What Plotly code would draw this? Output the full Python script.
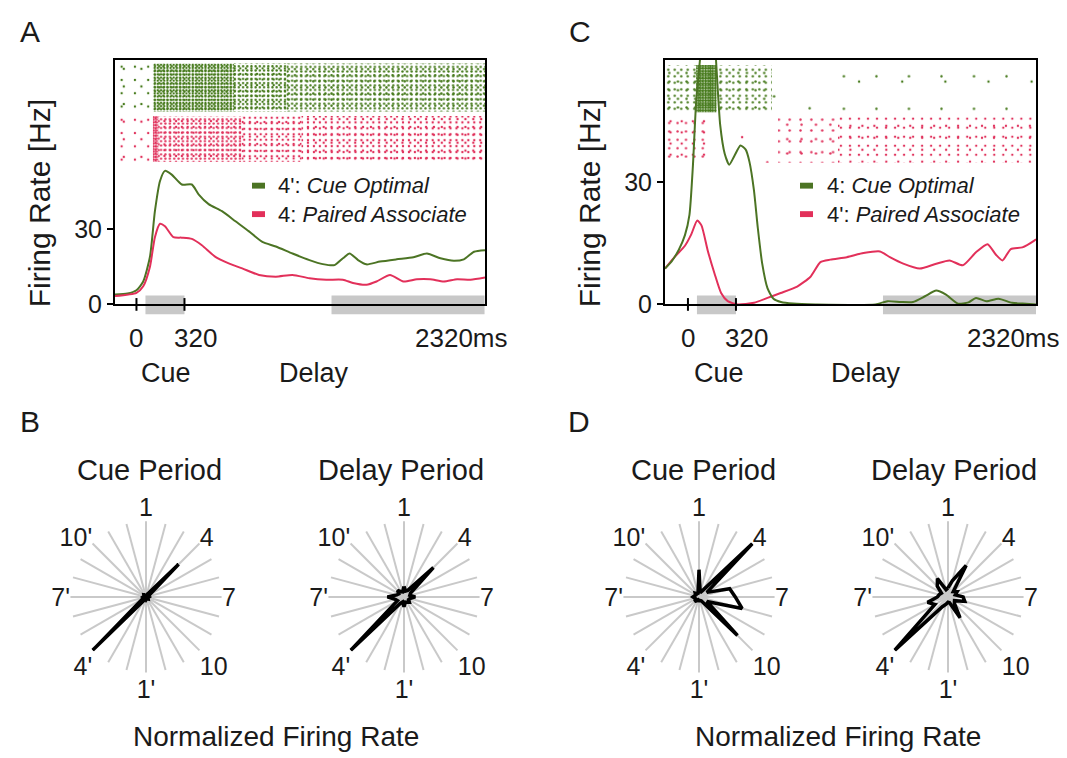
import math
import plotly.graph_objects as go

W, H = 1067, 758
FONT = "Liberation Sans, Arial, Helvetica, sans-serif"
GREEN = "#4c7424"
RED = "#e2305a"
GREEN_DOT = "#467a1c"
RED_DOT = "#e0325c"
GRAY_BAR = "#c8c8c8"

# ---------------- Panel A data (time in ms, rate in Hz) ----------------
a_green_t = [-143, -60, 0, 45, 90, 123, 157, 190, 235, 302, 369, 414, 481, 570, 660, 750,
             839, 929, 1040, 1153, 1242, 1320, 1376, 1421, 1477, 1533, 1623, 1734, 1846,
             1936, 2026, 2115, 2182, 2250, 2323]
a_green_hz = [3.9, 4.3, 5.6, 9.1, 18.9, 37, 49, 53, 51.5, 47.6, 47.6, 43.7, 39.8, 37, 33, 29,
              24.8, 23, 20.2, 17.6, 16, 15.6, 18.3, 20.2, 17.6, 15.9, 17, 17.9, 18.7,
              20.2, 18.3, 17.3, 17.9, 20.9, 21.5]
a_red_t = [-143, 0, 45, 90, 123, 157, 190, 246, 302, 369, 436, 526, 615, 705, 817, 929, 1040,
           1153, 1265, 1376, 1443, 1533, 1600, 1690, 1779, 1869, 1958, 2048, 2137, 2227, 2323]
a_red_hz = [3.3, 4.6, 7.2, 15, 26.7, 32, 31, 26.7, 26.5, 26, 23.5, 18.9, 16.3, 14.3, 11.7, 11,
            11.7, 10.4, 9.8, 9.8, 8.5, 7.8, 9.1, 11.7, 9.1, 10, 10, 9.1, 10, 9.8, 10.7]
# raster spike density (relative) per time bin
a_green_raster_edges = [-143, 110, 650, 1000, 2323]
a_green_raster_density = [0.12, 2.1, 1.2, 1.0]
a_red_raster_edges = [-143, 110, 145, 700, 1100, 2323]
a_red_raster_density = [0.12, 3.0, 1.1, 0.7, 0.6]

# ---------------- Panel C data ----------------
c_green_t = [-153, -110, -60, -20, 10, 33, 55, 80, 105, 135, 165, 187, 215, 245, 275, 310, 350,
             385, 410, 440, 465, 495, 530, 570, 620, 700, 850, 1250, 1330, 1420, 1500, 1580,
             1655, 1720, 1800, 1870, 1920, 1990, 2070, 2160, 2230, 2320]
c_green_hz = [8.8, 10.5, 13.5, 17, 22, 34, 50, 60, 72, 78, 72, 60, 44, 37, 34.3, 36.5, 39,
              38, 35, 28, 19, 10, 4, 1.4, 0.6, 0.2, 0, 0, 0.8, 0.6, 0.6, 2,
              3.4, 2.4, 0.2, 0.5, 1.6, 0.8, 1.4, 0.4, 0.2, 0]
c_red_t = [-153, -90, -20, 22, 62, 90, 132, 177, 221, 265, 331, 441, 530, 618, 728, 817, 883,
           949, 1059, 1170, 1280, 1346, 1435, 1545, 1655, 1744, 1832, 1920, 1997, 2053, 2097,
           2152, 2229, 2306, 2320]
c_red_hz = [8.8, 11.6, 14.4, 17.2, 20.6, 19.4, 13.2, 7.6, 2.8, 0.8, 0, 0.4, 1.6, 2.8, 4.4, 6.8,
            10.4, 11, 11.6, 12.6, 13, 11.6, 10, 8.8, 10, 10.8, 9.6, 12.8, 14.8, 12.2, 10.8,
            13.6, 14, 15.6, 16]
c_green_raster_edges = [-153, 55, 190, 560, 1000, 2320]
c_green_raster_density = [0.5, 3.5, 0.5, 0.004, 0.02]
c_red_raster_edges = [-153, 140, 600, 1000, 2320]
c_red_raster_density = [0.3, 0.008, 0.18, 0.26]

# analysis windows (ms)
cue_window = [60, 320]
delay_window = [1300, 2320]
tick_times = [0, 320]

# ---------------- Polar tuning data (normalized firing rate) ----------------
locations = [str(i) for i in range(1, 13)] + [str(i) + "'" for i in range(1, 13)]
labeled = ["1", "4", "7", "10", "1'", "4'", "7'", "10'"]
b_cue = [0.04, 0.03, 0.05, 0.61, 0.05, 0.03, 0.04, 0.03, 0.03, 0.04, 0.03, 0.03,
         0.04, 0.03, 0.05, 1.0, 0.05, 0.03, 0.04, 0.03, 0.03, 0.04, 0.03, 0.03]
b_delay = [0.14, 0.08, 0.1, 0.55, 0.1, 0.08, 0.15, 0.08, 0.07, 0.1, 0.08, 0.07,
           0.13, 0.07, 0.1, 1.0, 0.1, 0.12, 0.22, 0.1, 0.08, 0.12, 0.08, 0.07]
d_cue = [0.36, 0.06, 0.1, 1.0, 0.12, 0.42, 0.48, 0.59, 0.12, 0.72, 0.06, 0.05,
         0.05, 0.04, 0.06, 0.08, 0.05, 0.06, 0.08, 0.06, 0.05, 0.07, 0.05, 0.05]
d_delay = [0.12, 0.22, 0.48, 0.1, 0.14, 0.1, 0.2, 0.23, 0.1, 0.12, 0.32, 0.08,
           0.07, 0.1, 0.15, 1.0, 0.2, 0.28, 0.14, 0.12, 0.1, 0.2, 0.28, 0.1]


def fx(px):
    return px / W


def fy(py):
    return 1 - py / H


fig = go.Figure()

# layout geometry (pixels)
A_X = [107, 477]
C_X = [657, 1028]
TOP_Y = [53, 302]
A_RANGE = [-143, 2323]
C_RANGE = [-153, 2320]


def raster(edges, density, lo, hi, color, xa, ya):
    # two overlaid dot textures with incommensurate tile sizes -> irregular look
    n = len(edges) - 1
    for base_s, r_dot in [(4.6, 1.2), (6.1, 1.2)]:
        sizes = [base_s / math.sqrt(d) for d in density]
        sol = [min(0.7, math.pi * r_dot ** 2 / s ** 2) for s in sizes]
        fig.add_trace(go.Bar(
            x=edges[:-1], width=[edges[i + 1] - edges[i] for i in range(n)],
            offset=0, base=[lo] * n, y=[hi - lo] * n,
            marker=dict(color=color, line=dict(width=0),
                        pattern=dict(shape=".", size=sizes, solidity=sol, fillmode="replace")),
            xaxis=xa, yaxis=ya, showlegend=False, hoverinfo="skip"))


# Panel A rasters + curves
raster(a_green_raster_edges, a_green_raster_density, 76.6, 95.6, GREEN_DOT, "x", "y")
raster(a_red_raster_edges, a_red_raster_density, 56.6, 74.8, RED_DOT, "x", "y")
fig.add_trace(go.Scatter(x=a_green_t, y=a_green_hz, mode="lines",
                         line=dict(color=GREEN, width=2, shape="spline", smoothing=0.6),
                         xaxis="x", yaxis="y", showlegend=False))
fig.add_trace(go.Scatter(x=a_red_t, y=a_red_hz, mode="lines",
                         line=dict(color=RED, width=2, shape="spline", smoothing=0.6),
                         xaxis="x", yaxis="y", showlegend=False))

# Panel C rasters + curves
raster(c_green_raster_edges, c_green_raster_density, 47.2, 58.8, GREEN_DOT, "x2", "y2")
raster(c_red_raster_edges, c_red_raster_density, 34.8, 46.0, RED_DOT, "x2", "y2")
fig.add_trace(go.Scatter(x=c_red_t, y=c_red_hz, mode="lines",
                         line=dict(color=RED, width=2, shape="spline", smoothing=0.6),
                         xaxis="x2", yaxis="y2", showlegend=False))
fig.add_trace(go.Scatter(x=c_green_t, y=c_green_hz, mode="lines",
                         line=dict(color=GREEN, width=2, shape="spline", smoothing=0.6),
                         xaxis="x2", yaxis="y2", showlegend=False))

# Polar plots
angles = [i * 15 for i in range(len(locations))]
ticktext = [loc if loc in labeled else "" for loc in locations]
R = 77
polar_specs = [("polar", 138, 600, b_cue), ("polar2", 396, 600, b_delay),
               ("polar3", 691, 600, d_cue), ("polar4", 940, 600, d_delay)]
polar_layouts = {}
for name, cx, cy, vals in polar_specs:
    fig.add_trace(go.Scatterpolar(
        r=vals + [vals[0]], theta=angles + [angles[0]], mode="lines",
        line=dict(color="black", width=3.5), subplot=name, showlegend=False,
        hoverinfo="skip"))
    polar_layouts[name] = dict(
        domain=dict(x=[fx(cx - R), fx(cx + R)], y=[fy(cy + R), fy(cy - R)]),
        bgcolor="white",
        angularaxis=dict(rotation=90, direction="clockwise", thetaunit="degrees",
                         tickmode="array", tickvals=angles, ticktext=ticktext,
                         showline=False, gridcolor="#c9c9c9", gridwidth=1.6, ticks="",
                         tickfont=dict(family=FONT, size=25, color="#1a1a1a")),
        radialaxis=dict(range=[0, 1], visible=False, showgrid=False),
    )

axis_common = dict(showline=True, mirror=True, linecolor="black", linewidth=2,
                   showgrid=False, zeroline=False)

fig.update_layout(
    width=W, height=H, margin=dict(l=0, r=0, t=0, b=0),
    paper_bgcolor="white", plot_bgcolor="white", barmode="overlay",
    font=dict(family=FONT, color="#1a1a1a"),
    xaxis=dict(domain=[fx(A_X[0]), fx(A_X[1])], range=A_RANGE, showticklabels=False,
               ticks="", anchor="y", **axis_common),
    yaxis=dict(domain=[fy(TOP_Y[1]), fy(TOP_Y[0])], range=[0, 97], tickvals=[0, 30],
               ticks="outside", ticklen=6, tickwidth=2, tickcolor="black",
               tickfont=dict(size=25), anchor="x", **axis_common),
    xaxis2=dict(domain=[fx(C_X[0]), fx(C_X[1])], range=C_RANGE, showticklabels=False,
                ticks="", anchor="y2", **axis_common),
    yaxis2=dict(domain=[fy(TOP_Y[1]), fy(TOP_Y[0])], range=[0, 60], tickvals=[0, 30],
                ticks="outside", ticklen=6, tickwidth=2, tickcolor="black",
                tickfont=dict(size=25), anchor="x2", **axis_common),
    **polar_layouts,
)

shapes = []
annotations = []
for xa, ya, xr in [("x", "y", A_RANGE), ("x2", "y2", C_RANGE)]:
    for win in (cue_window, delay_window):
        shapes.append(dict(type="rect", xref=xa, yref=ya + " domain", x0=win[0], x1=win[1],
                           y0=-0.04, y1=0.036, fillcolor=GRAY_BAR, line=dict(width=0),
                           layer="below"))
    for t in tick_times:
        shapes.append(dict(type="line", xref=xa, yref=ya + " domain", x0=t, x1=t,
                           y0=-0.026, y1=0.026, line=dict(color="black", width=2)))
    # tick labels
    for txt, t, shift in [("0", 0, 0), ("320", 320, 11), ("2320ms", 2320, -23)]:
        annotations.append(dict(text=txt, x=t, xref=xa, y=fy(336), yref="paper",
                                xshift=shift, showarrow=False, xanchor="center",
                                yanchor="middle", font=dict(size=26)))

# period labels
for txt, px in [("Cue", 158), ("Delay", 306), ("Cue", 711), ("Delay", 858)]:
    annotations.append(dict(text=txt, x=fx(px), y=fy(372), xref="paper", yref="paper",
                            showarrow=False, xanchor="center", yanchor="middle",
                            font=dict(size=27)))
# y titles
for px in (31, 581):
    annotations.append(dict(text="Firing Rate [Hz]", x=fx(px), y=fy(199), xref="paper",
                            yref="paper", showarrow=False, textangle=-90,
                            xanchor="center", yanchor="middle", font=dict(size=30)))
# panel letters
for txt, px, py in [("A", 22, 24), ("C", 572, 24), ("B", 22, 421), ("D", 571, 421)]:
    annotations.append(dict(text=txt, x=fx(px), y=fy(py), xref="paper", yref="paper",
                            showarrow=False, xanchor="center", yanchor="middle",
                            font=dict(size=30)))
# polar titles
for txt, px in [("Cue Period", 141), ("Delay Period", 393), ("Cue Period", 695),
                ("Delay Period", 946)]:
    annotations.append(dict(text=txt, x=fx(px), y=fy(471), xref="paper", yref="paper",
                            showarrow=False, xanchor="center", yanchor="middle",
                            font=dict(size=29)))
for px in (268, 830):
    annotations.append(dict(text="Normalized Firing Rate", x=fx(px), y=fy(760),
                            xref="paper", yref="paper", showarrow=False,
                            xanchor="center", yanchor="bottom", font=dict(size=28)))

# legends
legends = [(244, 268, "4': <i>Cue Optimal</i>", "4: <i>Paired Associate</i>"),
           (792, 817, "4: <i>Cue Optimal</i>", "4': <i>Paired Associate</i>")]
for sx, tx, gtxt, rtxt in legends:
    for txt, col, py in [(gtxt, GREEN, 181), (rtxt, RED, 210)]:
        shapes.append(dict(type="rect", xref="paper", yref="paper", x0=fx(sx), x1=fx(sx + 13),
                           y0=fy(py + 3), y1=fy(py - 3), fillcolor=col, line=dict(width=0)))
        annotations.append(dict(text=txt, x=fx(tx), y=fy(py), xref="paper", yref="paper",
                                showarrow=False, xanchor="left", yanchor="middle",
                                font=dict(size=22)))

fig.update_layout(shapes=shapes, annotations=annotations)
fig.write_html("out.html")
